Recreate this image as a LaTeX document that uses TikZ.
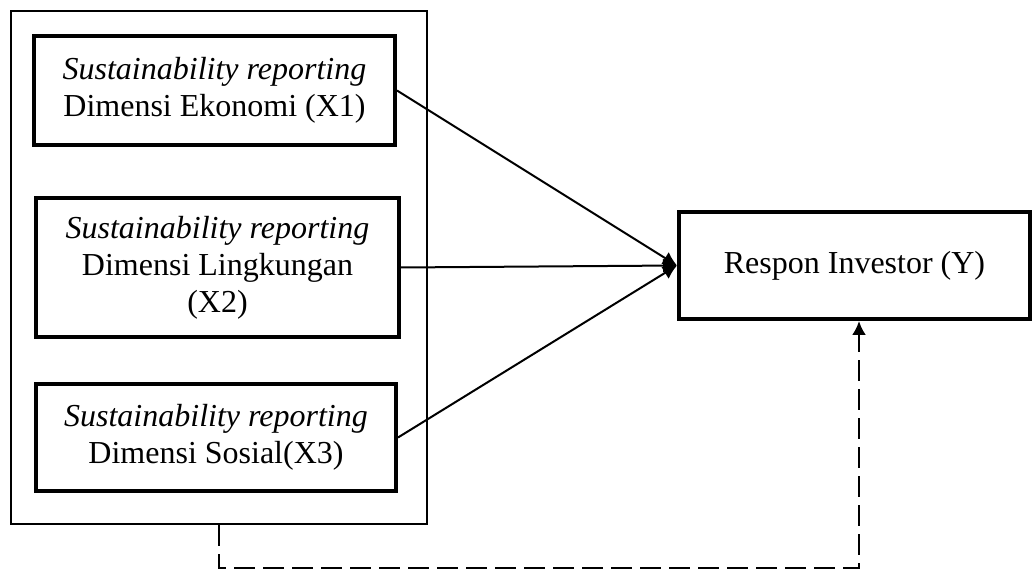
\documentclass[tikz,border=0pt]{standalone}
\usepackage{fontspec}
\setmainfont{Liberation Serif}
\usetikzlibrary{arrows.meta}
\tikzset{
  varbox/.style={draw, line width=2pt, align=center, inner sep=0pt, font=\fontsize{16}{18.5}\selectfont},
  arr/.style={line width=1pt, -{Latex[length=7pt, width=7pt]}},
  dasharr/.style={line width=1.2pt, dash pattern=on 10.5pt off 4pt, -{Latex[length=7pt, width=7pt]}}
}
\begin{document}
\begin{tikzpicture}[x=0.5pt, y=-0.5pt]
\useasboundingbox (0,0) rectangle (1033,571);
\node[draw, line width=1.3pt, minimum width=208pt, minimum height=256.5pt] (outer) at (219,267.5){};
\node[varbox, minimum width=180.5pt, minimum height=54.5pt] (x1) at (214.5,90.5){\textit{Sustainability reporting}\\Dimensi Ekonomi (X1)};
\node[varbox, minimum width=181.5pt, minimum height=69.5pt] (x2) at (217.5,267.5){\textit{Sustainability reporting}\\Dimensi Lingkungan\\(X2)};
\node[varbox, minimum width=180pt, minimum height=53.5pt] (x3) at (216,437.5){\textit{Sustainability reporting}\\Dimensi Sosial(X3)};
\node[varbox, minimum width=175.5pt, minimum height=53.5pt] (y0) at (854.5,265.5){Respon Investor (Y)};
\coordinate (dcorner) at (859,568);
\draw[arr](x1.east) -- (y0.west);
\draw[arr](x2.east) -- (y0.west);
\draw[arr](x3.east) -- (y0.west);
\draw[dasharr](outer.south) |- (dcorner) -- (dcorner |- y0.south);
\end{tikzpicture}
\end{document}
